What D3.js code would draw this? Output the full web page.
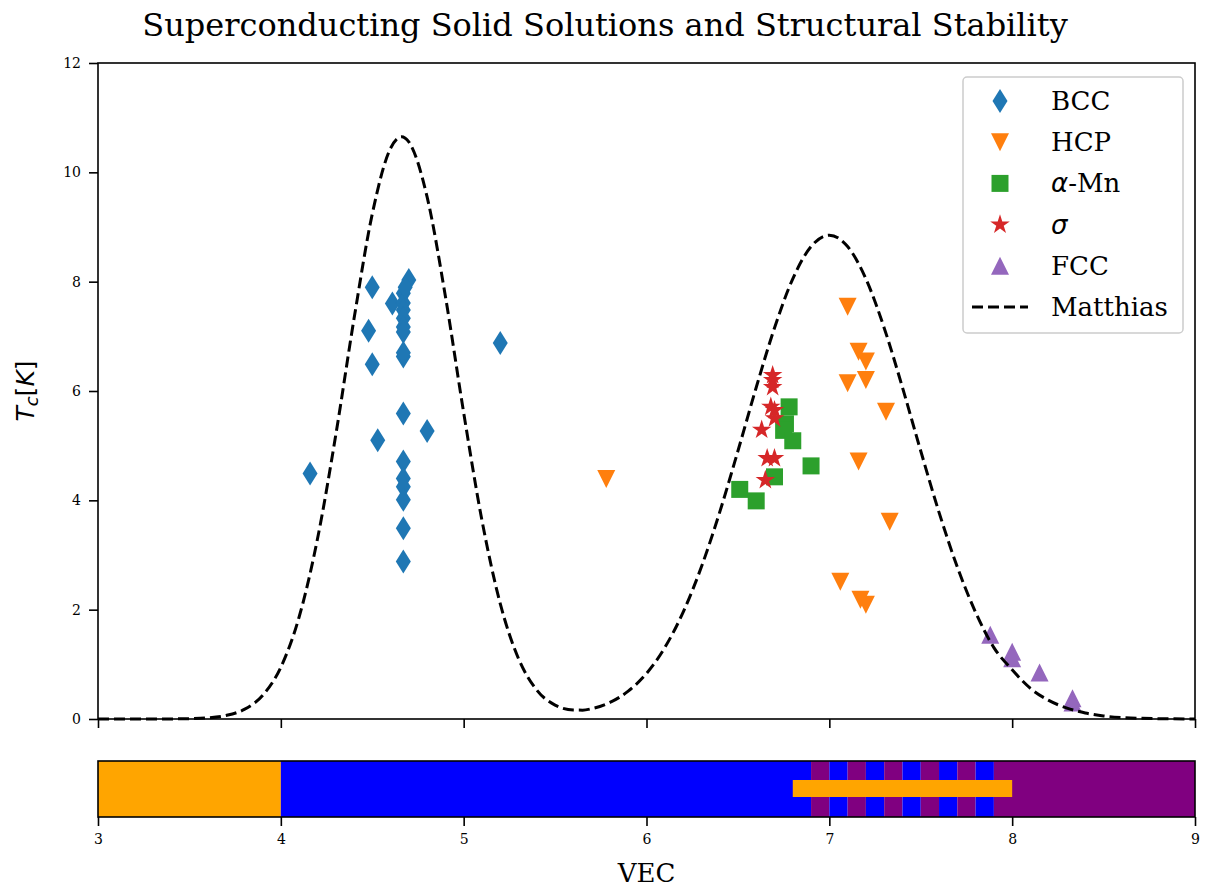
<!DOCTYPE html>
<html>
<head>
<meta charset="utf-8">
<script src="https://cdn.jsdelivr.net/npm/d3@7/dist/d3.min.js"></script>
<style>
  body { margin: 0; background: #fff; }
  svg text { font-family: "DejaVu Serif", serif; fill: #000; }
</style>
</head>
<body>
<div id="chart"></div>
<script>
// --- data: [VEC, Tc] ---
const bccPoints = [
  [4.16, 4.49], [4.50, 7.90], [4.48, 7.10], [4.50, 6.49], [4.53, 5.10],
  [4.61, 7.60], [4.67, 7.79], [4.67, 7.61], [4.67, 7.48], [4.67, 7.33],
  [4.67, 7.17], [4.67, 7.08], [4.70, 8.03], [4.68, 7.90], [4.67, 6.63],
  [4.67, 6.70], [4.67, 5.59], [4.80, 5.27], [4.67, 4.71], [4.67, 4.40],
  [4.67, 4.25], [4.67, 4.01], [4.67, 3.49], [4.67, 2.88], [5.20, 6.88]
]
const hcpPoints = [
  [5.78, 4.39], [7.10, 7.54], [7.16, 6.72], [7.20, 6.54], [7.10, 6.14],
  [7.20, 6.20], [7.31, 5.62], [7.16, 4.71], [7.33, 3.61], [7.06, 2.51],
  [7.17, 2.18], [7.20, 2.09]
]
const alphaMnPoints = [
  [6.78, 5.71], [6.76, 5.40], [6.75, 5.28], [6.80, 5.09], [6.90, 4.63],
  [6.70, 4.43], [6.51, 4.20], [6.60, 3.99]
]
const sigmaPoints = [
  [6.69, 6.29], [6.69, 6.20], [6.69, 6.07], [6.68, 5.71], [6.70, 5.65],
  [6.70, 5.50], [6.63, 5.29], [6.66, 4.77], [6.70, 4.77], [6.65, 4.37]
]
const fccPoints = [
  [7.88, 1.54], [8.00, 1.23], [8.00, 1.11], [8.15, 0.85], [8.33, 0.38], [8.33, 0.30]
]

const matthiasVec = [3.0, 3.2, 3.4, 3.5, 3.6, 3.7, 3.8, 3.9, 4.0, 4.1, 4.2, 4.3, 4.4, 4.5, 4.6, 4.66,
  4.7, 4.8, 4.9, 5.0, 5.1, 5.2, 5.3, 5.4, 5.5, 5.6, 5.65, 5.7, 5.8, 5.9, 6.0, 6.1, 6.2, 6.3,
  6.4, 6.5, 6.6, 6.7, 6.8, 6.9, 7.0, 7.1, 7.2, 7.3, 7.4, 7.5, 7.6, 7.7, 7.8, 7.9, 8.0, 8.1,
  8.2, 8.3, 8.4, 8.5, 8.6, 8.7, 8.8, 9.0]
const matthiasTc = [0, 0, 0.002, 0.006, 0.02, 0.064, 0.175, 0.43, 0.947, 1.866, 3.287, 5.184,
  7.315, 9.238, 10.439, 10.65, 10.556, 9.551, 7.733, 5.604, 3.634, 2.112, 1.104, 0.529, 0.254,
  0.165, 0.162, 0.189, 0.303, 0.509, 0.833, 1.306, 1.951, 2.78, 3.78, 4.902, 6.064, 7.154,
  8.052, 8.643, 8.85, 8.643, 8.052, 7.154, 6.064, 4.902, 3.78, 2.78, 1.951, 1.306, 0.9, 0.56,
  0.34, 0.2, 0.11, 0.055, 0.027, 0.013, 0.006, 0.001]

// structure bands under the plot: [from VEC, to VEC, band]
const phaseBands = [
  [3, 4, 'orange'], [4, 6.9, 'blue'],
  [6.9, 7.0, 'purple'], [7.0, 7.1, 'blue'], [7.1, 7.2, 'purple'], [7.2, 7.3, 'blue'],
  [7.3, 7.4, 'purple'], [7.4, 7.5, 'blue'], [7.5, 7.6, 'purple'], [7.6, 7.7, 'blue'],
  [7.7, 7.8, 'purple'], [7.8, 7.9, 'blue'], [7.9, 9, 'purple']
]
const overlayBand = [6.8, 8.0]

const xTicks = [3, 4, 5, 6, 7, 8, 9]
const yTicks = [0, 2, 4, 6, 8, 10, 12]

// --- drawing ---
var W = 1206, H = 888
var pL = 98, pR = 1195, pT = 63, pB = 719
var barTop = 761, barBottom = 817

var bandColor = { orange: '#ffa500', blue: '#0000ff', purple: '#800080' }

var x = d3.scaleLinear().domain([3, 9]).range([pL, pR])
var y = d3.scaleLinear().domain([0, 12]).range([pB, pT])

var svg = d3.select('#chart').append('svg')
  .attr('width', W)
  .attr('height', H)

// title
svg.append('text')
  .attr('x', 605).attr('y', 36)
  .attr('text-anchor', 'middle')
  .style('font-size', '32px')
  .text('Superconducting Solid Solutions and Structural Stability')

// main axes
svg.append('g')
  .attr('transform', 'translate(' + pL + ',0)')
  .call(d3.axisLeft(y).tickValues(yTicks).tickSize(9).tickPadding(8).tickSizeOuter(0))
  .call(g => g.select('.domain').remove())
  .call(g => g.selectAll('line').attr('stroke-width', 1.6))
  .call(g => g.selectAll('text').style('font-size', '14px').style('font-family', '"DejaVu Serif", serif'))

svg.append('g')
  .attr('transform', 'translate(0,' + pB + ')')
  .call(d3.axisBottom(x).tickValues(xTicks).tickFormat('').tickSize(9).tickSizeOuter(0))
  .call(g => g.select('.domain').remove())
  .call(g => g.selectAll('line').attr('stroke-width', 1.6))

var markerPath = {
  diamond: 'M0,-12L7.5,0L0,12L-7.5,0Z',
  down: 'M-9,-9L9,-9L0,9Z',
  up: 'M0,-9L9,9L-9,9Z',
  square: 'M-8.5,-8.5h17v17h-17Z',
  star: d3.symbol(d3.symbolStar, 118)()
}

var series = [
  { name: 'BCC', pts: bccPoints, shape: 'diamond', color: '#1f77b4' },
  { name: 'HCP', pts: hcpPoints, shape: 'down', color: '#ff7f0e' },
  { name: 'α-Mn', pts: alphaMnPoints, shape: 'square', color: '#2ca02c' },
  { name: 'σ', pts: sigmaPoints, shape: 'star', color: '#d62728' },
  { name: 'FCC', pts: fccPoints, shape: 'up', color: '#9467bd' }
]

series.forEach(function (s) {
  svg.append('g').selectAll('path')
    .data(s.pts)
    .enter()
    .append('path')
    .attr('d', markerPath[s.shape])
    .attr('transform', function (d) { return 'translate(' + x(d[0]) + ',' + y(d[1]) + ')' })
    .attr('fill', s.color)
})

var line = d3.line()
  .x(function (d) { return x(d[0]) })
  .y(function (d) { return y(d[1]) })
  .curve(d3.curveMonotoneX)

svg.append('path')
  .datum(d3.zip(matthiasVec, matthiasTc))
  .attr('d', line)
  .attr('fill', 'none')
  .attr('stroke', '#000')
  .attr('stroke-width', 3)
  .attr('stroke-dasharray', '11,5')

svg.append('rect')
  .attr('x', pL).attr('y', pT)
  .attr('width', pR - pL).attr('height', pB - pT)
  .attr('fill', 'none').attr('stroke', '#000').attr('stroke-width', 1.6)

// y label
var yl = svg.append('text')
  .attr('transform', 'translate(34,391) rotate(-90)')
  .attr('text-anchor', 'middle')
  .style('font-family', '"DejaVu Sans", sans-serif')
  .style('font-size', '25px')
yl.append('tspan').style('font-style', 'italic').style('font-family', '"DejaVu Sans", sans-serif').text('T')
yl.append('tspan').style('font-style', 'italic').style('font-size', '18px').attr('dy', 4).style('font-family', '"DejaVu Sans", sans-serif').text('c')
yl.append('tspan').attr('dy', -4).style('font-family', '"DejaVu Sans", sans-serif').text('[')
yl.append('tspan').style('font-style', 'italic').style('font-family', '"DejaVu Sans", sans-serif').text('K')
yl.append('tspan').style('font-family', '"DejaVu Sans", sans-serif').text(']')

// legend
var lg = svg.append('g')
lg.append('rect')
  .attr('x', 963).attr('y', 77).attr('width', 220).attr('height', 256)
  .attr('rx', 4)
  .attr('fill', '#fff').attr('fill-opacity', 0.8)
  .attr('stroke', '#ccc').attr('stroke-width', 1.5)

var rowY = function (i) { return 101 + i * 41.2 }
series.forEach(function (s, i) {
  lg.append('path')
    .attr('d', markerPath[s.shape])
    .attr('transform', 'translate(1000,' + rowY(i) + ')')
    .attr('fill', s.color)
  var t = lg.append('text')
    .attr('x', 1051).attr('y', rowY(i) + 9)
    .style('font-size', '26px')
  if (s.name === 'α-Mn') {
    t.append('tspan').style('font-style', 'italic').style('font-family', '"DejaVu Sans", sans-serif').text('α')
    t.append('tspan').text('-Mn')
  } else if (s.name === 'σ') {
    t.append('tspan').style('font-style', 'italic').style('font-family', '"DejaVu Sans", sans-serif').text('σ')
  } else {
    t.text(s.name)
  }
})
lg.append('line')
  .attr('x1', 972).attr('x2', 1028)
  .attr('y1', rowY(5)).attr('y2', rowY(5))
  .attr('stroke', '#000').attr('stroke-width', 3)
  .attr('stroke-dasharray', '11,5')
lg.append('text')
  .attr('x', 1051).attr('y', rowY(5) + 9)
  .style('font-size', '26px')
  .text('Matthias')

// structure bar
var bar = svg.append('g')
bar.selectAll('rect.band')
  .data(phaseBands)
  .enter()
  .append('rect')
  .attr('class', 'band')
  .attr('x', function (d) { return x(d[0]) })
  .attr('width', function (d) { return x(d[1]) - x(d[0]) })
  .attr('y', barTop).attr('height', barBottom - barTop)
  .attr('fill', function (d) { return bandColor[d[2]] })

bar.append('rect')
  .attr('x', x(overlayBand[0])).attr('width', x(overlayBand[1]) - x(overlayBand[0]))
  .attr('y', 780).attr('height', 17)
  .attr('fill', bandColor.orange)

bar.append('rect')
  .attr('x', pL).attr('y', barTop)
  .attr('width', pR - pL).attr('height', barBottom - barTop)
  .attr('fill', 'none').attr('stroke', '#000').attr('stroke-width', 1.6)

svg.append('g')
  .attr('transform', 'translate(0,' + barBottom + ')')
  .call(d3.axisBottom(x).tickValues(xTicks).tickFormat(d3.format('d')).tickSize(9).tickPadding(8).tickSizeOuter(0))
  .call(g => g.select('.domain').remove())
  .call(g => g.selectAll('line').attr('stroke-width', 1.6))
  .call(g => g.selectAll('text').style('font-size', '14px').style('font-family', '"DejaVu Serif", serif'))

svg.append('text')
  .attr('x', (pL + pR) / 2).attr('y', 882)
  .attr('text-anchor', 'middle')
  .style('font-size', '26px')
  .text('VEC')
</script>
</body>
</html>
